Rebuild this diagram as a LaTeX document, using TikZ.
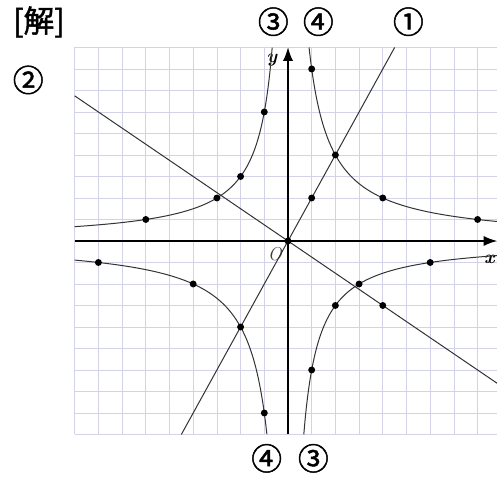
\documentclass[tikz,border=0pt]{standalone}
\usepackage{fontspec}
\newfontfamily\cjkfont[FakeBold=1.6]{Noto Sans CJK JP}
\usepackage{xcolor}
\usetikzlibrary{arrows.meta,positioning,calc}
\definecolor{gridlav}{HTML}{D2D2E8}
\definecolor{curvegray}{HTML}{333333}

\begin{document}
\begin{tikzpicture}[
    x=17.775pt,y=16.125pt,
    gridln/.style = {gridlav,line width=0.55pt},
    axis/.style   = {-{Latex[length=10pt,width=7.5pt]},black,line width=0.8pt},
    curve/.style  = {curvegray,line width=0.75pt},
    dot/.style    = {circle,fill=black,inner sep=0pt,minimum size=5.2pt},
    num/.style    = {font=\cjkfont\fontsize{23}{23}\selectfont,inner sep=0pt},
    lab/.style    = {font=\fontsize{14}{14}\selectfont\bfseries\itshape,inner sep=0pt},
  ]
  \useasboundingbox (-12.152,-10.977) rectangle (8.819,11.209);

  % grid paper
  \foreach \i in {-9,...,8} \draw[gridln] (\i,-9) -- (\i,9);
  \foreach \j in {-9,...,9} \draw[gridln] (-9,\j) -- (8.819,\j);

  % axes
  \coordinate (xl) at (-9,0);
  \coordinate (xr) at (8.819,0);
  \coordinate (yb) at (0,-9);
  \coordinate (yt) at (0,9);
  \draw[axis] (xl) -- (xr);
  \draw[axis] (yb) -- (yt);
  \node[lab] (xlab) at (8.5,-0.85) {x};
  \node[lab] (ylab) at (-0.68,8.4) {y};
  \node[lab,font=\fontsize{14}{14}\selectfont\itshape,text=black!75] (olab) at (-0.55,-0.62) {O};

  % (1) y = 2x
  \coordinate (oneA) at (-4.5,-9);
  \coordinate (oneB) at (4.5,9);
  \draw[curve] (oneA) -- (oneB);

  % (2) y = -3x/4
  \coordinate (twoA) at (-9,6.75);
  \coordinate (twoB) at (8.819,-6.614);
  \draw[curve] (twoA) -- (twoB);

  % (3) y = -6/x
  \draw[curve] plot[domain=-9:-0.6667,samples=150,smooth] (\x,{-6/\x});
  \draw[curve] plot[domain=0.6667:8.819,samples=150,smooth] (\x,{-6/\x});

  % (4) y = 8/x
  \draw[curve] plot[domain=0.8889:8.819,samples=150,smooth] (\x,{8/\x});
  \draw[curve] plot[domain=-9:-0.8889,samples=150,smooth] (\x,{8/\x});

  % points
  \node[dot] (o) at (0,0) {};
  \node[dot] (p12) at (1,2) {};
  \node[dot] (p24) at (2,4) {};
  \node[dot] (m24) at (-2,-4) {};
  \node[dot] (p18) at (1,8) {};
  \node[dot] (p42) at (4,2) {};
  \node[dot] (p81) at (8,1) {};
  \node[dot] (m18) at (-1,-8) {};
  \node[dot] (m42) at (-4,-2) {};
  \node[dot] (m81) at (-8,-1) {};
  \node[dot] (q16) at (-1,6) {};
  \node[dot] (q23) at (-2,3) {};
  \node[dot] (q32) at (-3,2) {};
  \node[dot] (q61) at (-6,1) {};
  \node[dot] (r16) at (1,-6) {};
  \node[dot] (r23) at (2,-3) {};
  \node[dot] (r32) at (3,-2) {};
  \node[dot] (r61) at (6,-1) {};
  \node[dot] (s43) at (4,-3) {};

  % labels
  \node[num] (kai) at (-10.51,10.19) {[解]};
  \node[num] (c3t) at (-0.62,10.2) {③};
  \node[num] (c4t) at (1.28,10.2) {④};
  \node[num] (c1t) at (5.08,10.2) {①};
  \node[num] (c2)  at (-10.96,7.49) {②};
  \node[num] (c4b) at (-0.9,-10.11) {④};
  \node[num] (c3b) at (1.07,-10.11) {③};

\end{tikzpicture}
\end{document}
